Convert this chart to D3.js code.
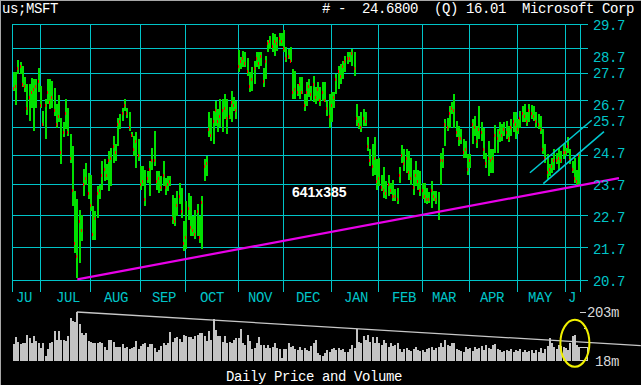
<!DOCTYPE html>
<html><head><meta charset="utf-8">
<script src="https://cdn.jsdelivr.net/npm/d3@7"></script>
<style>
html,body{margin:0;padding:0;background:#000;}
svg{display:block;}
text{font-family:"Liberation Mono",monospace;font-size:14px;letter-spacing:-0.4px;white-space:pre;}
</style></head><body>
<svg id="c" width="641" height="385"></svg>
<script>
// ---------------- data ----------------
const symbol = "us;MSFT";
const company = "Microsoft Corp";
const quoteFlag = "(Q)";
const quoteValue = "16.01";
const footerTitle = "Daily Price and Volume";
const watermark = "641x385";
const months = ["JU","JUL","AUG","SEP","OCT","NOV","DEC","JAN","FEB","MAR","APR","MAY","J"];
const monthDays = [12,22,22,20,23,20,21,21,19,21,21,21,7];
const priceTicks = [29.7,28.7,27.7,26.7,25.7,24.7,23.7,22.7,21.7,20.7];
const volumeTicks = [203,18]; // millions

const high = [
27.74,27.74,28.23,28.14,28.00,27.55,27.29,27.29,27.51,27.48,27.48,27.90,
27.22,26.28,26.71,27.48,27.48,27.42,27.12,26.53,26.86,26.00,25.85,26.71,26.40,25.43,25.01,23.46,23.19,22.86,22.70,24.20,24.42,24.08,
24.02,22.97,22.81,23.62,23.68,24.48,24.54,24.37,24.83,24.95,25.36,25.07,26.03,26.16,26.40,26.71,26.40,26.22,25.49,25.36,25.49,25.25,
24.31,24.31,24.19,24.13,24.48,24.95,25.54,24.13,24.13,23.96,24.48,23.90,23.96,23.96,23.35,23.24,23.46,23.73,23.57,22.49,
23.13,23.41,23.30,22.65,22.86,23.03,22.65,23.30,24.54,24.65,26.22,26.03,26.28,26.65,26.34,26.71,26.71,26.90,26.71,26.42,27.03,26.79,26.65,
28.63,28.35,28.59,28.55,28.31,27.75,27.95,28.19,28.56,28.55,28.55,27.91,28.40,29.04,29.20,29.33,29.27,29.15,29.33,29.31,
29.46,28.74,28.67,28.75,27.87,27.80,27.29,27.56,27.56,26.90,27.37,27.48,27.22,27.61,27.17,27.37,27.17,27.37,27.37,26.65,26.90,
26.98,26.98,27.67,28.00,28.07,28.20,28.40,28.56,28.54,28.67,28.56,26.53,26.09,26.22,26.34,26.22,25.32,24.89,25.07,25.31,24.54,
24.57,23.99,24.26,23.79,23.99,23.75,23.85,23.55,23.58,24.26,25.03,24.89,24.89,24.83,24.60,24.19,24.48,24.19,24.13,
23.74,23.74,23.58,23.42,23.79,23.46,23.46,23.42,24.77,24.95,25.97,26.03,26.46,26.59,26.90,25.91,25.72,25.63,25.25,25.19,24.71,
24.71,25.99,26.09,25.72,26.46,25.85,25.66,24.77,25.19,24.89,24.89,25.75,25.60,25.85,25.79,25.85,25.91,25.72,25.97,26.22,26.24,
25.97,26.28,26.46,26.53,26.22,26.53,26.49,26.46,26.22,26.16,26.09,25.60,25.07,24.71,24.37,24.60,24.89,24.77,24.95,24.83,25.07,
24.95,25.31,24.89,24.48,24.60,24.19,24.71];

const low = [
27.03,26.49,27.67,27.67,27.16,26.97,26.12,25.91,26.40,25.54,26.40,26.97,
26.40,25.72,25.25,26.53,26.34,26.40,26.09,25.64,25.85,24.37,25.31,25.60,25.36,24.42,22.97,21.49,20.75,21.21,21.87,23.30,23.68,23.19,
22.81,21.90,21.90,22.60,23.19,23.51,23.79,23.85,23.46,23.62,24.42,24.48,25.01,25.60,25.91,26.28,26.03,25.54,25.31,24.65,24.25,24.48,
23.51,23.62,22.97,23.73,23.30,24.19,24.31,23.51,23.41,23.46,23.62,23.35,23.46,23.62,22.39,22.34,22.65,23.03,22.60,21.57,
21.62,22.54,22.03,22.03,21.92,22.03,21.82,21.62,23.79,23.96,25.31,25.19,25.07,25.72,25.49,25.68,25.50,25.97,25.43,25.97,25.85,26.27,25.97,
27.76,27.87,27.95,27.95,27.61,26.98,27.02,27.29,27.95,27.87,27.99,27.17,27.48,28.54,28.67,28.54,28.40,28.60,28.80,28.80,
28.54,28.14,28.27,28.15,26.71,26.71,26.84,26.71,26.90,26.28,26.46,26.79,26.65,26.59,26.53,26.65,26.46,26.65,26.59,26.09,25.66,
25.85,26.40,26.90,27.10,27.29,27.48,27.74,28.07,28.14,28.00,27.61,25.72,25.60,25.49,25.72,25.72,24.83,24.31,23.96,24.02,23.51,
23.62,23.46,23.25,23.19,23.30,23.38,23.13,23.13,23.03,23.74,24.42,24.13,24.08,23.85,23.68,23.35,23.62,23.51,23.30,
23.19,23.08,23.03,23.08,22.92,23.13,23.03,22.54,23.68,24.25,25.01,25.54,25.66,26.16,25.66,25.31,25.01,25.07,24.60,24.60,23.99,
24.25,25.07,25.36,24.95,25.25,25.19,24.54,24.25,23.96,24.08,24.08,24.77,24.77,25.13,25.19,25.36,25.25,25.13,25.36,25.49,25.25,
25.43,25.66,25.85,25.85,25.72,25.85,25.97,25.91,25.66,25.60,25.43,24.71,24.42,23.85,23.96,24.08,24.19,24.37,24.19,24.42,24.54,
24.65,24.77,24.37,24.08,23.73,23.62,23.68];

const close = [
27.15,27.20,27.90,28.00,27.30,27.20,26.40,26.80,27.00,27.10,27.20,27.40,
26.50,25.80,26.50,27.00,26.60,26.80,26.30,25.80,26.10,24.80,25.50,26.20,25.50,24.60,23.50,21.80,21.40,22.50,22.20,23.70,23.90,23.40,
23.00,22.10,22.60,23.40,23.50,24.00,24.20,24.00,24.50,24.60,25.00,24.80,25.80,25.90,26.20,26.50,26.20,25.70,25.40,24.90,25.20,24.70,
23.70,23.80,23.20,23.90,24.20,24.50,24.50,23.80,23.90,23.60,24.00,23.60,23.70,23.80,22.60,22.50,23.00,23.30,22.80,21.80,
22.00,22.90,22.30,22.20,22.10,22.80,22.00,23.10,24.30,24.40,25.60,25.40,25.90,26.30,25.90,26.10,26.30,26.40,26.00,26.10,26.60,26.50,26.30,
28.00,28.20,28.30,28.10,27.80,27.20,27.50,27.90,28.30,28.10,28.40,27.40,28.20,28.90,29.00,28.80,29.00,28.90,29.10,29.00,
28.70,28.30,28.40,28.20,27.00,27.10,27.00,27.30,27.00,26.50,27.00,27.20,26.90,27.30,26.80,27.10,26.70,27.00,26.70,26.40,26.10,
26.50,26.80,27.50,27.80,27.60,28.00,28.20,28.30,28.30,28.50,27.90,26.00,25.80,25.70,26.00,25.90,25.00,24.50,24.30,24.60,23.80,
23.90,23.60,23.50,23.40,23.70,23.50,23.30,23.30,23.20,24.00,24.70,24.40,24.60,24.10,23.90,23.60,24.00,23.80,23.50,
23.50,23.30,23.20,23.20,23.50,23.30,23.20,22.80,24.50,24.50,25.80,25.70,26.20,26.40,26.30,25.50,25.30,25.30,24.80,24.90,24.20,
24.50,25.80,25.70,25.20,25.60,25.50,24.90,24.40,24.60,24.50,24.60,25.40,25.30,25.50,25.40,25.60,25.50,25.30,25.70,25.90,25.80,
25.60,26.00,26.20,26.10,25.90,26.30,26.20,26.10,25.90,25.80,25.60,24.90,24.60,24.10,24.20,24.30,24.50,24.50,24.60,24.50,24.80,
24.80,25.00,24.50,24.20,23.90,23.80,24.68];

const volume = [
82,110,91,81,85,87,115,104,87,112,92,85,66,85,37,62,85,88,131,97,132,97,97,93,112,179,169,166,203,158,
122,116,122,95,91,85,87,85,90,87,72,60,97,97,91,70,72,70,81,66,72,65,66,72,93,62,75,81,87,72,83,81,66,53,60,75,85,78,85,129,
91,104,107,100,88,116,112,107,107,100,112,116,125,122,112,93,131,97,
175,
135,112,112,91,112,85,91,87,97,104,106,137,85,78,115,93,62,66,87,107,78,78,66,78,68,72,85,68,62,28,
62,62,87,72,75,62,60,72,60,66,60,57,76,85,97,49,41,
37,47,60,53,62,66,60,68,60,62,53,53,62,78,66,
140,
91,87,112,97,116,91,110,87,110,85,78,97,87,72,85,75,78,87,62,53,62,66,60,57,62,72,60,57,60,53,
62,66,72,60,66,70,87,72,97,78,75,85,85,62,60,57,53,72,62,66,57,70,62,66,75,60,78,66,62,78,
82,62,60,53,57,60,57,62,53,60,57,62,53,60,53,57,60,49,60,53,66,47,62,75,
105,
85,72,62,78,75,72,66,60,85,112,116,78,70];

// trend lines as [day index, value]
const supportLine = [[28,20.72],[266.4,23.9]];
const channelUpper = [[227.2,24.08],[254.4,25.93]];
const channelLower = [[233.1,23.71],[259.8,25.52]];
const volumeLine = [[27.8,203],[276,76]];
const volumeMarker = 143;
const highlight = {index:247, volume:85};

// ---------------- drawing ----------------
const N = d3.sum(monthDays);
[high,low,close,volume].forEach((a,k)=>{ if(a.length!==N) throw new Error("length mismatch "+k+": "+a.length+" vs "+N); });

const svg = d3.select("#c");
const W = 641, H = 385;
const plotL = 12, plotR = 580, plotT = 24, plotB = 280, tickB = 292, gridR = 588;
const volBase = 361, volTop = 312;
const GRID = "#00c4c8", GREEN = "#00e000", RED = "#ff0000";

svg.append("rect").attr("width",W).attr("height",H).attr("fill","#000");
// window border
svg.append("line").attr("x1",0.5).attr("x2",0.5).attr("y1",0).attr("y2",H).attr("stroke","#a8a8a8");
svg.append("line").attr("x1",0).attr("x2",W).attr("y1",0.5).attr("y2",0.5).attr("stroke","#a8a8a8");

const x = d3.scaleLinear().domain([0,N]).range([12.7,580.7]);
const y = d3.scaleLog().domain([20.7,29.7]).range([plotB,plotT]);
const v = d3.scaleLinear().domain([volumeTicks[1],volumeTicks[0]]).range([volBase,volTop]);

const g = svg.append("g").attr("shape-rendering","crispEdges");

// horizontal grid
priceTicks.forEach(p=>{
  const yy = Math.round(y(p))+0.5;
  g.append("line").attr("x1",plotL).attr("x2",gridR).attr("y1",yy).attr("y2",yy).attr("stroke",GRID);
});
// month starts
const starts = []; let acc = 0;
monthDays.forEach(d=>{ starts.push(acc); acc+=d; });
const vlines = [plotL].concat(starts.slice(1).map(s=>Math.round(x(s)))).concat([plotR]);
vlines.forEach(xx=>{
  g.append("line").attr("x1",xx+0.5).attr("x2",xx+0.5).attr("y1",plotT).attr("y2",tickB).attr("stroke",GRID);
});

// price bars
const idx = d3.range(N);
g.selectAll("rect.bar").data(idx).join("rect").attr("class","bar")
  .attr("x",i=>Math.round(x(i))).attr("width",2)
  .attr("y",i=>Math.round(y(high[i])))
  .attr("height",i=>Math.max(1,Math.round(y(low[i]))-Math.round(y(high[i]))))
  .attr("fill",GREEN);
g.selectAll("rect.cl").data(idx).join("rect").attr("class","cl")
  .attr("x",i=>Math.round(x(i))).attr("width",1)
  .attr("y",i=>Math.round(y(close[i]))-1).attr("height",3)
  .attr("fill",RED);

// volume bars
g.selectAll("rect.vol").data(idx).join("rect").attr("class","vol")
  .attr("x",i=>Math.round(x(i))).attr("width",2)
  .attr("y",i=>Math.round(v(volume[i])))
  .attr("height",i=>volBase-Math.round(v(volume[i])))
  .attr("fill","#c4c4c4");

// trend lines
function seg(pts, sc, col, w){
  svg.append("line")
    .attr("x1",x(pts[0][0])+1).attr("y1",sc(pts[0][1]))
    .attr("x2",x(pts[1][0])+1).attr("y2",sc(pts[1][1]))
    .attr("stroke",col).attr("stroke-width",w);
}
seg(volumeLine, v, "#c8c8c8", 1.3);
seg(supportLine, y, "#e800e8", 2.2);
seg(channelUpper, y, "#00c8d0", 1.6);
seg(channelLower, y, "#00c8d0", 1.6);

// volume scale marks
const vm = svg.append("g").attr("shape-rendering","crispEdges").attr("stroke","#d0d0d0");
const yTop = Math.round(v(volumeTicks[0]))+0.5;
vm.append("line").attr("x1",plotR).attr("x2",plotR+6).attr("y1",yTop).attr("y2",yTop);
const yLast = Math.round(v(volume[N-1]))+0.5;
vm.append("path").attr("fill","none")
  .attr("d",`M${plotR},${yLast}H${plotR+7.5}V${volBase-0.5}H${plotR}`);
const yMark = Math.round(v(volumeMarker))+0.5;
vm.append("line").attr("x1",plotR+4).attr("x2",plotR+7).attr("y1",yMark).attr("y2",yMark);

// yellow highlight
svg.append("ellipse").attr("cx",x(highlight.index)+1).attr("cy",v(highlight.volume))
  .attr("rx",14.5).attr("ry",23.5).attr("fill","none").attr("stroke","#f0f000").attr("stroke-width",2);

// ---------------- text ----------------
const T = svg.append("g");
T.append("text").attr("x",2).attr("y",13).attr("fill","#fff").text(symbol);
T.append("text").attr("x",322).attr("y",13).attr("fill","#fff")
  .text(`# -  ${close[N-1].toFixed(4)}  ${quoteFlag} ${quoteValue}  ${company}`);

// price labels snapped to 16px text rows (ties go downward)
priceTicks.forEach(p=>{
  const row = 25 + 16*Math.round((y(p)-25)/16 + 0.1);
  T.append("text").attr("x",593).attr("y",row+4.5).attr("fill",GRID).text(p.toFixed(1));
});
// month labels snapped to 8px columns
months.forEach((m,k)=>{
  const a = k===0 ? plotL : Math.round(x(starts[k]));
  const b = k===months.length-1 ? plotR : Math.round(x(starts[k+1]));
  const mid = (a+b)/2;
  const sx = 8*Math.round((mid - m.length*4)/8);
  T.append("text").attr("x",sx).attr("y",301.5).attr("fill",GRID).text(m);
});
// volume labels
T.append("text").attr("x",587).attr("y",Math.round(v(volumeTicks[0]))+4.5).attr("fill","#d8d8d8").text(volumeTicks[0]+"m");
T.append("text").attr("x",595).attr("y",volBase+4.5).attr("fill","#d8d8d8").text(volumeTicks[1]+"m");
T.append("text").attr("x",226).attr("y",381).attr("fill","#fff").text(footerTitle);
T.append("text").attr("x",292).attr("y",196.5).attr("fill","#fff")
  .style("font-family","'Liberation Sans',Arial,sans-serif").style("font-weight","bold")
  .style("font-size","14px").style("letter-spacing","0px").text(watermark);
</script>
</body></html>
